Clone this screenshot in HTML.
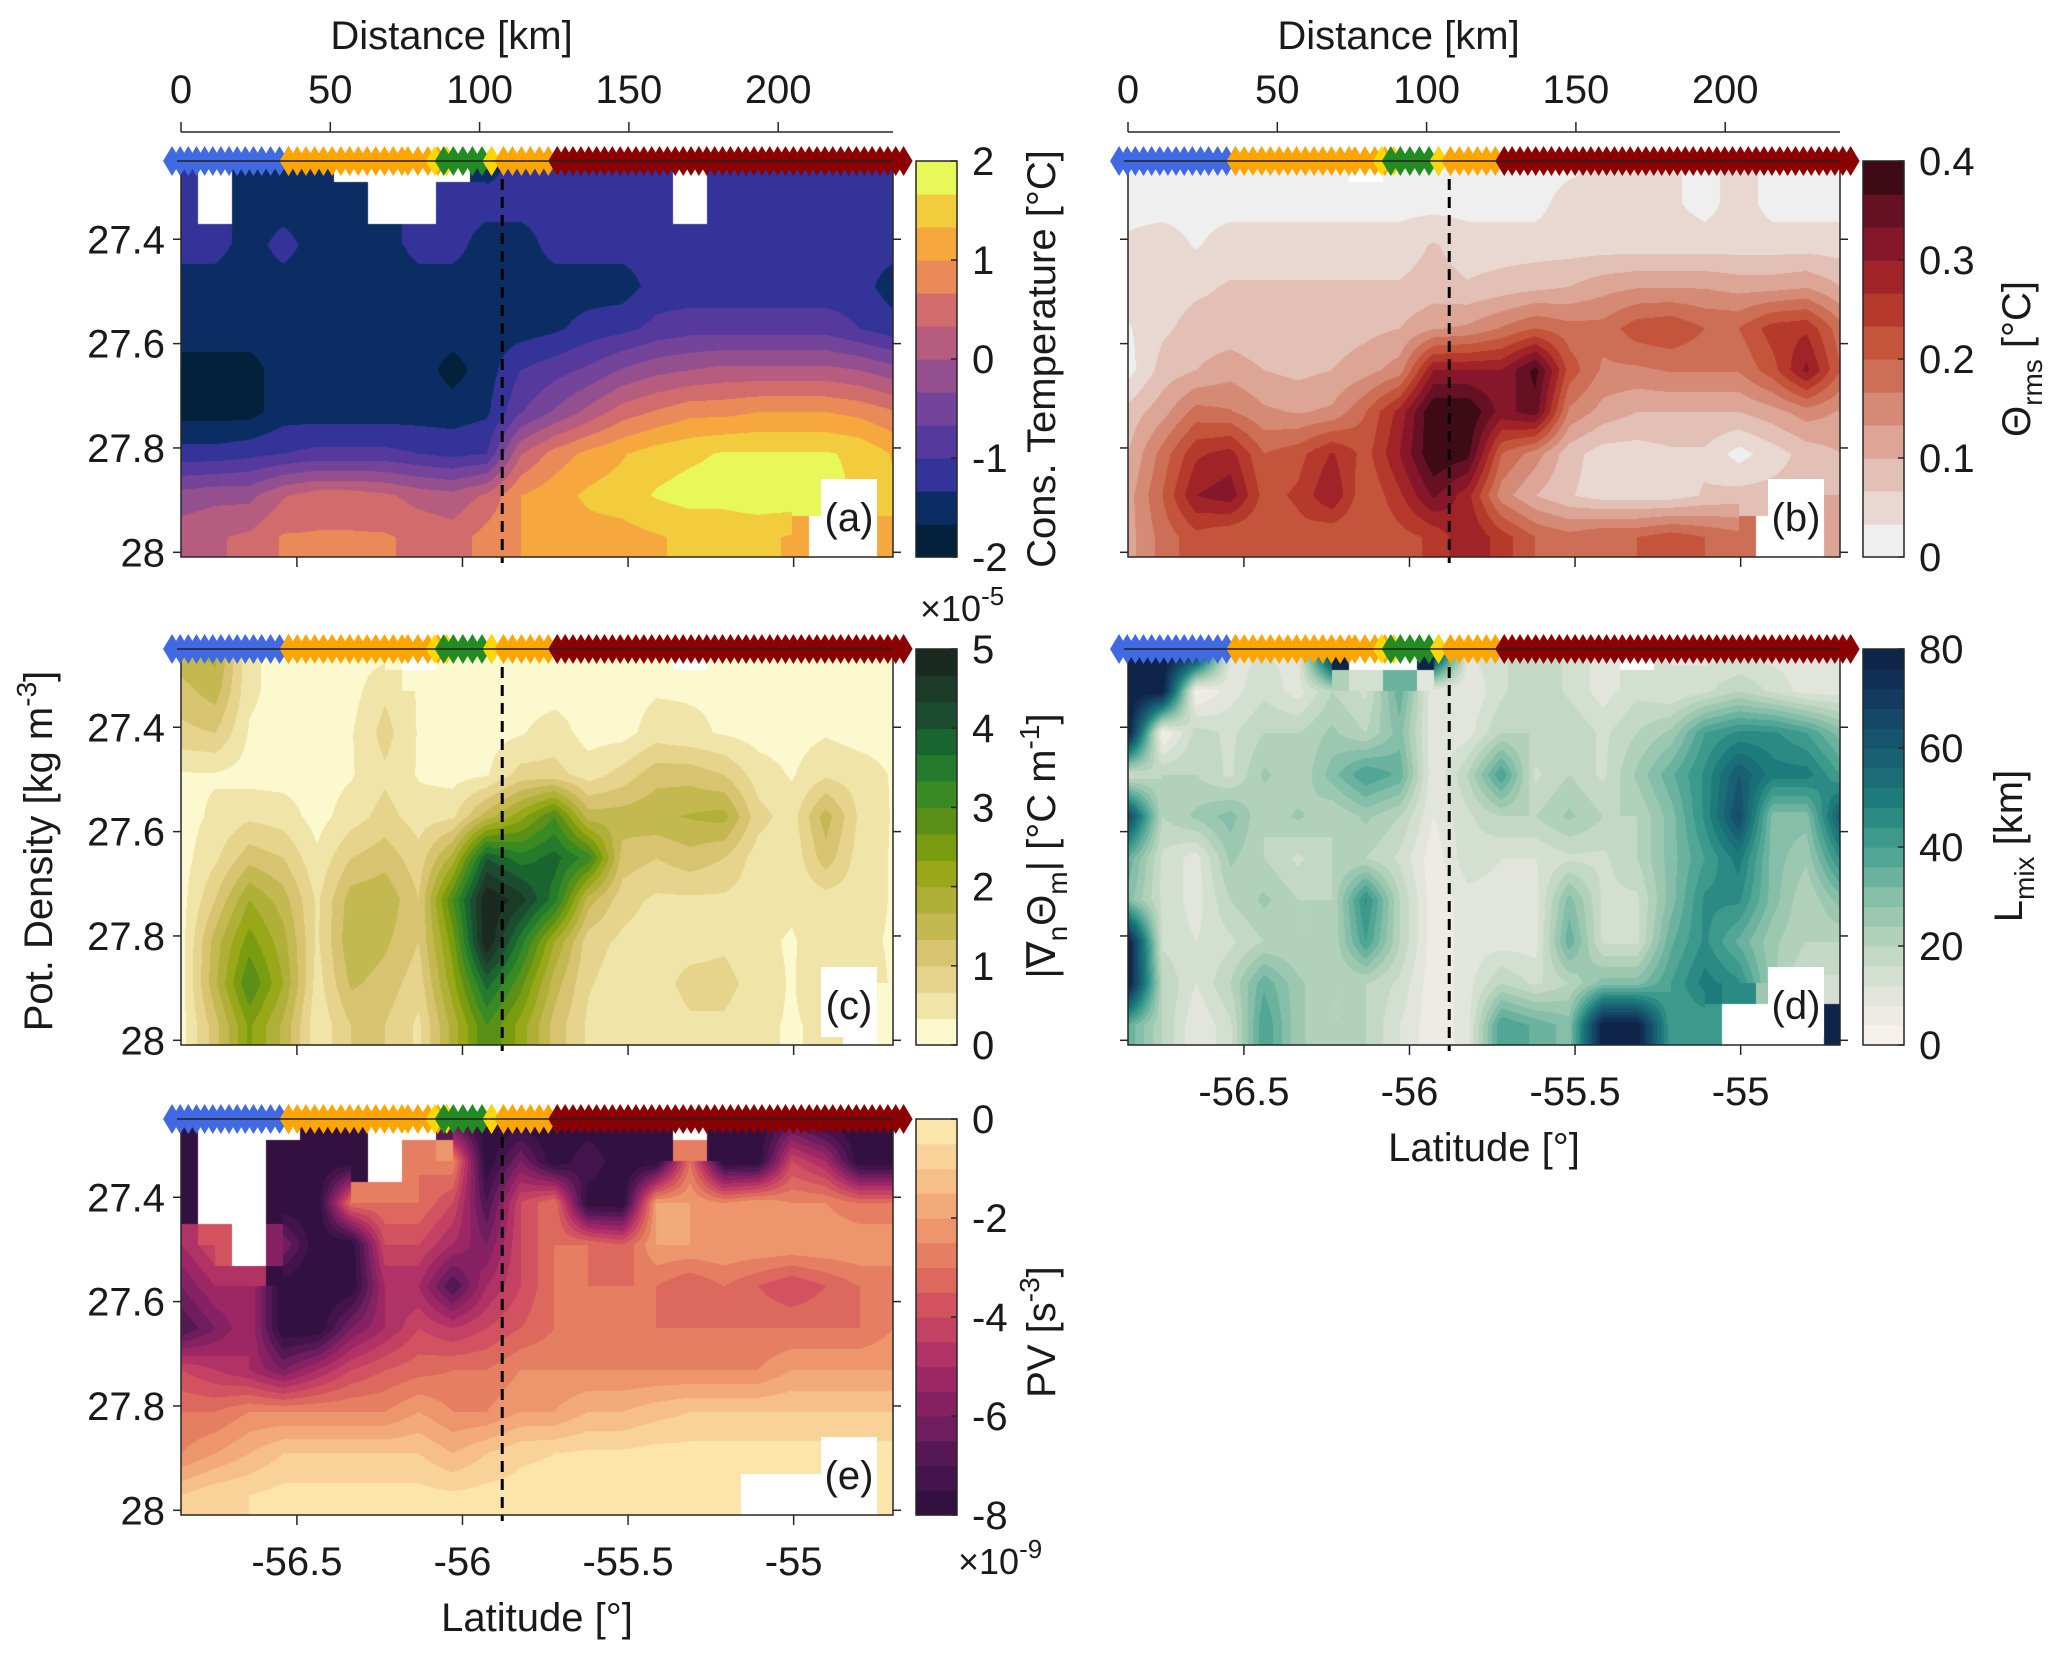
<!DOCTYPE html>
<html><head><meta charset="utf-8"><style>
body{margin:0;background:#fff;}
#wrap{position:relative;width:2067px;height:1659px;overflow:hidden;background:#fff;font-family:"Liberation Sans",Arial,sans-serif;}
canvas{position:absolute;}
svg{position:absolute;left:0;top:0;}
text{font-family:"Liberation Sans",Arial,sans-serif;fill:#1a1a1a;}
</style></head><body>
<div id="wrap">
<svg id="svg" width="2067" height="1659"></svg>
</div>
<script>
// ---------- data ----------
const lats = [-56.85,-56.75,-56.64,-56.54,-56.44,-56.34,-56.23,-56.13,-56.03,-55.93,-55.82,-55.72,-55.62,-55.52,-55.41,-55.31,-55.21,-55.11,-55.00,-54.90,-54.80,-54.70];
const dens = [27.25,27.33,27.41,27.49,27.57,27.65,27.73,27.81,27.89,27.97];
const N = null;
const tempVals = [
[-1.3,N,-1.5,-1.5,-1.5,N,N,N,N,-1.5,-1.2,-1.2,-1.2,-1.2,-1.2,N,-1.1,-1.2,-1.2,-1.2,-1.2,-1.2],
[-1.2,N,-1.5,-1.5,-1.5,-1.5,N,N,-1.2,-1.2,-1.2,-1.2,-1.2,-1.2,-1.2,N,-1.2,-1.2,-1.2,-1.2,-1.2,-1.2],
[-1.2,-1.2,-1.5,-1.2,-1.5,-1.5,-1.5,-1.2,-1.2,-1.5,-1.5,-1.2,-1.2,-1.2,-1.2,-1.2,-1.2,-1.2,-1.2,-1.2,-1.2,-1.2],
[-1.5,-1.5,-1.5,-1.5,-1.5,-1.5,-1.5,-1.5,-1.5,-1.5,-1.5,-1.5,-1.5,-1.5,-1.2,-1.2,-1.2,-1.2,-1.2,-1.2,-1.2,-1.5],
[-1.5,-1.5,-1.5,-1.5,-1.5,-1.5,-1.5,-1.5,-1.5,-1.5,-1.5,-1.4,-1.2,-1.1,-0.9,-0.8,-0.8,-0.8,-0.8,-0.8,-1.0,-1.2],
[-1.8,-1.8,-1.8,-1.5,-1.5,-1.5,-1.5,-1.5,-1.8,-1.5,-1.0,-0.8,-0.6,-0.3,-0.1,0.0,0.1,0.1,0.1,0.1,0.0,-0.2],
[-1.8,-1.8,-1.8,-1.5,-1.5,-1.5,-1.5,-1.5,-1.5,-1.4,-0.7,-0.3,0.1,0.5,0.7,0.9,0.9,1.0,1.0,1.0,0.9,0.7],
[-1.2,-1.2,-1.1,-1.0,-0.9,-0.9,-0.9,-1.0,-1.1,-1.0,0.3,0.8,1.1,1.3,1.5,1.6,1.7,1.7,1.7,1.7,1.6,1.3],
[-0.2,-0.1,-0.1,0.3,0.5,0.5,0.4,0.2,0.1,0.4,1.0,1.2,1.4,1.5,1.7,1.8,1.8,1.9,1.9,1.8,1.6,1.4],
[0.2,0.3,0.4,0.7,0.7,0.7,0.7,0.6,0.5,0.8,1.0,1.0,1.2,1.2,1.3,1.4,1.4,1.4,1.3,N,N,1.3]];
const rmsVals = [
[0.01,0.02,0.02,0.02,0.02,0.02,0.02,N,0.02,0.02,0.02,0.02,0.02,0.02,0.04,0.04,0.04,0.02,0.05,0.02,0.02,0.02],
[0.02,0.02,0.02,0.02,0.02,0.02,0.02,0.02,0.02,0.02,0.02,0.02,0.02,0.05,0.05,0.05,0.04,0.02,0.05,0.02,0.02,0.02],
[0.04,0.05,0.03,0.05,0.05,0.05,0.05,0.05,0.05,0.07,0.05,0.05,0.05,0.05,0.05,0.05,0.05,0.05,0.05,0.05,0.05,0.05],
[0.05,0.05,0.06,0.07,0.07,0.07,0.07,0.07,0.07,0.08,0.07,0.08,0.09,0.10,0.12,0.13,0.13,0.13,0.12,0.12,0.13,0.10],
[0.03,0.06,0.08,0.08,0.07,0.07,0.08,0.09,0.10,0.13,0.14,0.17,0.20,0.18,0.18,0.22,0.23,0.20,0.20,0.25,0.26,0.18],
[0.02,0.08,0.10,0.12,0.10,0.09,0.10,0.12,0.15,0.30,0.30,0.30,0.38,0.22,0.16,0.16,0.17,0.17,0.17,0.22,0.31,0.20],
[0.08,0.12,0.18,0.17,0.14,0.13,0.14,0.20,0.28,0.40,0.40,0.32,0.35,0.16,0.12,0.10,0.10,0.10,0.10,0.12,0.15,0.13],
[0.10,0.18,0.26,0.28,0.20,0.22,0.27,0.22,0.30,0.40,0.38,0.20,0.15,0.08,0.05,0.05,0.06,0.06,0.02,0.05,0.08,0.10],
[0.12,0.20,0.30,0.32,0.22,0.24,0.30,0.20,0.26,0.34,0.28,0.15,0.10,0.07,0.05,0.05,0.05,0.07,0.08,0.08,0.08,0.10],
[0.12,0.18,0.22,0.20,0.20,0.22,0.20,0.20,0.22,0.24,0.30,0.25,0.20,0.18,0.20,0.20,0.22,0.20,0.18,N,N,0.10]];
const gradVals = [
[1.6,1.8,0.4,0.2,0.2,0.2,0.2,N,0.2,0.2,0.2,0.2,0.2,0.2,0.2,N,0.2,0.2,0.2,0.2,0.2,0.2],
[1.2,1.5,0.4,0.2,0.2,0.2,0.6,0.3,0.2,0.2,0.2,0.2,0.2,0.2,0.3,0.3,0.3,0.2,0.2,0.2,0.2,0.2],
[0.9,1.0,0.3,0.2,0.2,0.3,0.8,0.3,0.2,0.2,0.3,0.5,0.2,0.2,0.5,0.4,0.3,0.2,0.2,0.3,0.2,0.2],
[0.3,0.3,0.2,0.2,0.2,0.3,0.6,0.3,0.2,0.3,0.8,0.8,0.5,0.8,1.2,1.2,1.0,0.5,0.3,0.6,0.5,0.3],
[0.2,0.4,0.6,0.5,0.2,0.5,0.8,0.5,0.6,1.5,2.2,3.0,1.5,1.5,1.6,1.7,1.8,0.8,0.5,1.5,0.6,0.3],
[0.2,0.6,1.2,1.0,0.4,1.0,1.2,0.8,1.8,4.0,3.5,3.8,3.2,1.2,1.0,1.2,1.0,0.5,0.4,1.2,0.5,0.3],
[0.2,1.0,2.0,1.5,0.6,1.5,1.6,1.0,3.0,5.0,4.5,3.5,1.5,0.8,0.6,0.6,0.6,0.5,0.4,0.5,0.5,0.3],
[0.2,1.5,2.5,1.8,0.6,1.6,1.4,1.0,2.5,5.0,3.5,2.0,0.8,0.6,0.5,0.5,0.6,0.4,0.3,0.5,0.4,0.3],
[0.2,1.6,3.0,2.0,0.5,1.4,1.2,0.8,2.2,3.8,2.8,1.5,0.7,0.5,0.5,0.8,0.8,0.5,0.3,0.6,0.5,0.3],
[0.2,1.2,2.4,1.6,0.4,1.0,1.0,0.6,1.8,3.0,2.2,1.2,0.6,0.4,0.4,0.6,0.6,0.4,0.3,0.4,N,0.3]];
const lmixVals = [
[80,80,80,10,12,10,80,N,N,80,12,15,20,15,10,N,12,10,10,10,10,10],
[80,80,3,10,15,10,20,15,35,8,8,15,20,15,10,15,12,15,20,15,10,10],
[80,3,18,15,20,20,25,20,30,8,10,20,20,20,15,20,25,40,45,45,40,30],
[15,20,20,15,25,20,30,40,35,8,20,40,15,20,15,25,35,45,60,50,50,40],
[65,20,25,30,20,25,20,25,20,8,15,20,20,25,20,20,30,45,65,30,30,60],
[35,15,10,25,20,15,20,20,15,5,15,12,12,15,15,20,30,40,50,30,25,45],
[30,15,10,20,25,20,20,45,20,5,10,10,10,30,15,15,30,45,45,30,20,30],
[80,15,12,15,20,20,20,40,20,5,10,10,10,35,15,15,35,45,35,25,20,20],
[80,20,12,20,35,25,20,20,15,5,10,20,15,20,30,30,40,50,45,25,15,15],
[35,20,8,15,40,25,20,20,12,5,10,40,35,30,80,80,40,40,N,N,N,80]];
const pvVals = [
[-8,N,N,N,-8,-8,N,N,-7,-8,-8,-8,-8,-8,-8,N,-8,-8,-7,-8,-8,-8],
[-8,N,N,-8,-8,-8,N,-3,-2.5,-8,-6,-8,-7,-8,-8,-3,-8,-8,-4,-5,-8,-8],
[-8,N,N,-8,-8,-3,-3,-3,-4,-7,-4,-3,-8,-8,-2,-2,-2.5,-2,-2.5,-2.5,-3,-3],
[-5,-4,N,-6,-8,-8,-4,-4,-5,-6,-4,-3,-3,-3.5,-2,-2,-2,-2,-2,-2,-2,-2],
[-6,-5,-5,-8,-8,-8,-5,-5,-7,-5,-4,-3,-3,-3,-3,-3.5,-3,-3.5,-4,-3.5,-3,-3],
[-7,-6,-5,-8,-8,-6,-5,-4,-4.5,-4,-3.5,-3,-3,-3,-3,-3,-3,-3,-3,-3,-3,-2.5],
[-4,-4.5,-5,-6,-5,-4,-3.5,-3.2,-3,-3,-2.5,-2.5,-2.5,-2.5,-2.5,-2.5,-2.5,-2.5,-2,-2,-2,-2],
[-3,-3,-2.5,-2.5,-2.5,-2.5,-2.5,-2,-2.5,-2.5,-2,-2,-1.5,-1.5,-1.2,-1,-1,-1,-1,-1,-1,-1],
[-2.5,-2,-1.5,-1,-1,-1,-1,-1,-1.5,-1,-0.6,-0.5,-0.4,-0.4,-0.3,-0.3,-0.3,-0.3,-0.3,-0.3,-0.3,-0.3],
[-1,-0.6,-0.5,-0.3,-0.3,-0.3,-0.3,-0.3,-0.4,-0.3,-0.3,-0.3,-0.3,-0.3,-0.3,-0.3,-0.3,N,N,N,N,-0.2]];
const densTicks = [27.4,27.6,27.8,28];
const densTickLabels = ["27.4","27.6","27.8","28"];
const latTicks = [-56.5,-56,-55.5,-55];
const latTickLabels = ["-56.5","-56","-55.5","-55"];
const distTicks = [0,50,100,150,200];
const distTickLabels = ["0","50","100","150","200"];
const frontLat = -55.88;
// station groups: [startKm, endKm, count, color]
const stationStart = [-3, 30, 36, 76, 85, 88, 104, 108, 126];
const stationEnd   = [27, 36, 74, 86, 89, 104, 108, 126, 242];
const stationCount = [12, 3, 14, 4, 2, 6, 2, 7, 45];
const stationColor = ['#4169e1','#4169e1','#ffa500','#ffa500','#ffd700','#228b22','#ffd700','#ffa500','#8b0000'];

// ---------- geometry ----------
const PW=712, PH=396, LAT0=-56.85, LAT1=-54.70, D0=27.25, D1=28.009;
const latX = l => (l-LAT0)/(LAT1-LAT0)*PW;
const densY = d => (d-D0)/(D1-D0)*PH;
const distX = k => k*2.986;

function hex(c){return [parseInt(c.slice(1,3),16),parseInt(c.slice(3,5),16),parseInt(c.slice(5,7),16)];}
function toHex(a){return '#'+a.map(v=>Math.round(v).toString(16).padStart(2,'0')).join('');}
function ramp(anchors, n){
  const out=[];
  for(let i=0;i<n;i++){const t=(i+0.5)/n;let k=0;while(k<anchors.length-2&&t>anchors[k+1][0])k++;
    const a=anchors[k],b=anchors[k+1],f=Math.min(1,Math.max(0,(t-a[0])/(b[0]-a[0])));
    const ca=hex(a[1]),cb=hex(b[1]);out.push(toHex(ca.map((v,j)=>v+(cb[j]-v)*f)));}
  return out;
}
const cmTemp=['#03213a','#0c2d64','#33339a','#55399c','#74449a','#94508e','#b65c7e','#d06c6c','#ea8a58','#f6a73e','#f2cc3c','#e8f85a'];
const cmRms=['#efefef','#e9d8d2','#e2c0b6','#dca596','#d58a76','#cd6e56','#c4553c','#b63a2c','#a02328','#86162a','#661024','#3e0a16'];
const cmGrad=['#fdf9cf','#f0e4a8','#e6d48c','#d8c470','#c4b850','#b0b038','#98a818','#7a9c10','#5a9018','#3a8a24','#267a2c','#1a6430','#1c4c30','#1c3a28','#1a2a20'];
const cmL=ramp([[0,'#fbf4f2'],[0.12,'#e4e6dc'],[0.25,'#bcd6c0'],[0.37,'#88c0aa'],[0.5,'#44a090'],[0.62,'#1e7c7c'],[0.75,'#175a70'],[0.87,'#143c60'],[1,'#0c1e44']],20);
const cmPV=ramp([[0,'#2a0f3a'],[0.125,'#4a1550'],[0.25,'#7a1f62'],[0.375,'#a82a66'],[0.5,'#cc4860'],[0.625,'#e2735c'],[0.75,'#f0a072'],[0.875,'#f8c890'],[1,'#fdeeb4']],16);

const panels=[
 {key:'a',x:181,y:161,vals:tempVals,cm:cmTemp,min:-2,max:2,ticks:[2,1,0,-1,-2],tl:['2','1','0','-1','-2'],top:true,left:true,latLabels:false},
 {key:'b',x:1128,y:161,vals:rmsVals,cm:cmRms,min:0,max:0.4,ticks:[0.4,0.3,0.2,0.1,0],tl:['0.4','0.3','0.2','0.1','0'],top:true,left:false,latLabels:false},
 {key:'c',x:181,y:649,vals:gradVals,cm:cmGrad,min:0,max:5,ticks:[5,4,3,2,1,0],tl:['5','4','3','2','1','0'],top:false,left:true,latLabels:false},
 {key:'d',x:1128,y:649,vals:lmixVals,cm:cmL,min:0,max:80,ticks:[80,60,40,20,0],tl:['80','60','40','20','0'],top:false,left:false,latLabels:true},
 {key:'e',x:181,y:1119,vals:pvVals,cm:cmPV,min:-8,max:0,ticks:[0,-2,-4,-6,-8],tl:['0','-2','-4','-6','-8'],top:false,left:true,latLabels:true}
];

function sample(vals,lat,d){
  let fx=(lat-lats[0])/(lats[lats.length-1]-lats[0])*(lats.length-1);
  let fy=(d-dens[0])/(dens[dens.length-1]-dens[0])*(dens.length-1);
  fx=Math.max(0,Math.min(lats.length-1.0001,fx));fy=Math.max(0,Math.min(dens.length-1.0001,fy));
  const i=Math.floor(fx),j=Math.floor(fy),tx=fx-i,ty=fy-j;
  const a=vals[j][i],b=vals[j][i+1],c=vals[j+1][i],e=vals[j+1][i+1];
  if(a===null||b===null||c===null||e===null){
    return vals[Math.round(fy)][Math.round(fx)];
  }
  return a*(1-tx)*(1-ty)+b*tx*(1-ty)+c*(1-tx)*ty+e*tx*ty;
}

const wrap=document.getElementById('wrap');
const svg=document.getElementById('svg');
const NS='http://www.w3.org/2000/svg';
function el(tag,attrs,parent){const e=document.createElementNS(NS,tag);for(const k in attrs)e.setAttribute(k,attrs[k]);(parent||svg).appendChild(e);return e;}
function txt(x,y,s,size,anchor,parent){const t=el('text',{x:x,y:y,'font-size':size,'text-anchor':anchor||'middle'},parent);t.textContent=s;return t;}

panels.forEach(p=>{
  const cv=document.createElement('canvas');
  cv.width=PW;cv.height=PH;cv.style.left=p.x+'px';cv.style.top=p.y+'px';
  
  
  wrap.insertBefore(cv,svg);
  const ctx=cv.getContext('2d');const img=ctx.createImageData(PW,PH);
  const cols=p.cm.map(hex);const n=p.cm.length;
  for(let py=0;py<PH;py++){const d=D0+py/PH*(D1-D0);
    for(let px=0;px<PW;px++){const l=LAT0+px/PW*(LAT1-LAT0);
      const v=sample(p.vals,l,d);let c=[255,255,255];
      if(v!==null){let k=Math.floor((v-p.min)/(p.max-p.min)*n);k=Math.max(0,Math.min(n-1,k));c=cols[k];}
      const o=(py*PW+px)*4;img.data[o]=c[0];img.data[o+1]=c[1];img.data[o+2]=c[2];img.data[o+3]=255;}}
  ctx.putImageData(img,0,0);

  const g=el('g',{transform:`translate(${p.x},${p.y})`});
  
  
  const fl=el('line',{x1:latX(frontLat),x2:latX(frontLat),y1:0,y2:PH+6,stroke:'#000','stroke-width':3,'stroke-dasharray':'11 7'},g);
  
  
  const lb=el('rect',{x:640,y:318,width:56,height:70,fill:'#fff'},g);
  
  
  const lt=txt(668,370,'('+p.key+')',40,'middle',g);
  
  
  el('rect',{x:0,y:0,width:PW,height:PH,fill:'none',stroke:'#262626','stroke-width':1.5},g);
  densTicks.forEach((d,i)=>{const y=densY(d);
    el('line',{x1:-8,x2:0,y1:y,y2:y,stroke:'#262626','stroke-width':1.5},g);
    el('line',{x1:PW,x2:PW+8,y1:y,y2:y,stroke:'#262626','stroke-width':1.5},g);
    if(p.left){const t=txt(-16,y+14,densTickLabels[i],40,'end',g);
      
      }
  });
  latTicks.forEach((l,i)=>{const x=latX(l);
    el('line',{x1:x,x2:x,y1:PH,y2:PH+10,stroke:'#262626','stroke-width':1.5},g);
    if(p.latLabels){const t=txt(x,PH+60,latTickLabels[i],40,'middle',g);
      
      }
  });
  if(p.latLabels){const t=txt(PW/2,PH+116,'Latitude [°]',40,'middle',g);
    
    }
  if(p.top){
    el('line',{x1:0,x2:PW,y1:-29,y2:-29,stroke:'#262626','stroke-width':1.5},g);
    distTicks.forEach((k,i)=>{const x=distX(k);
      el('line',{x1:x,x2:x,y1:-29,y2:-39,stroke:'#262626','stroke-width':1.5},g);
      const t=txt(x,-58,distTickLabels[i],40,'middle',g);
      
      });
    const t=txt(PW*0.38,-112,'Distance [km]',40,'middle',g);
    
    
  }
  for(let s=0;s<stationStart.length;s++){
    for(let k=0;k<stationCount[s];k++){
      const km=stationCount[s]===1?stationStart[s]:stationStart[s]+(stationEnd[s]-stationStart[s])*k/(stationCount[s]-1);
      const x=distX(km);
      const dm=el('polygon',{points:`${x-9},0 ${x},-15 ${x+9},0 ${x},15`,fill:stationColor[s]},g);
      
      
    }
  }
  el('line',{x1:-4,x2:PW,y1:0,y2:0,stroke:'#222','stroke-width':1.5},g);

  const cb=el('g',{transform:`translate(${p.x+PW+23},0)`});
  
  
  const n2=p.cm.length,bh=PH/n2;
  p.cm.forEach((c,i)=>{el('rect',{x:0,y:p.y+PH-(i+1)*bh,width:41,height:bh+0.6,fill:c},cb);});
  el('rect',{x:0,y:p.y,width:41,height:PH,fill:'none',stroke:'#262626','stroke-width':1.5},cb);
  p.ticks.forEach((v,i)=>{const y=p.y+PH-(v-p.min)/(p.max-p.min)*PH;
    el('line',{x1:35,x2:41,y1:y,y2:y,stroke:'#262626','stroke-width':1.5},cb);
    const t=txt(56,y+14,p.tl[i],40,'start',cb);
    
    });
});

// rotated labels: parts = [text, dy, small]
function rot(x,y,parts,name){
  const t=el('text',{x:0,y:0,'font-size':40,'text-anchor':'middle',transform:`translate(${x},${y}) rotate(-90)`});
  parts.forEach(pt=>{const at={};if(pt[1])at.dy=pt[1];if(pt[2])at['font-size']=28;
    const s=el('tspan',at,t);s.textContent=pt[0];});
  
  
}
rot(52,851,[['Pot. Density [kg m'],['-3',-16,1],[']',16]],'y-axis-title');
rot(1055,359,[['Cons. Temperature [°C]']],'colorbar-title-temperature');
rot(1055,846,[['|∇'],['n',12,1],['Θ',-12],['m',12,1],['| [°C m',-12],['-1',-16,1],[']',16]],'colorbar-title-gradient');
rot(1055,1332,[['PV [s'],['-3',-16,1],[']',16]],'colorbar-title-pv');
rot(2030,359,[['Θ'],['rms',12,1],[' [°C]',-12]],'colorbar-title-theta-rms');
rot(2022,846,[['L'],['mix',12,1],[' [km]',-12]],'colorbar-title-lmix');
function expo(x,y,e,name){const t=el('text',{x:x,y:y,'font-size':36,'text-anchor':'start'});
  const a=el('tspan',{},t);a.textContent='×10';const b=el('tspan',{'font-size':26,dy:-16},t);b.textContent=e;
  }
expo(920,621,'-5','exponent-gradient');
expo(958,1574,'-9','exponent-pv');
</script>
</body></html>
